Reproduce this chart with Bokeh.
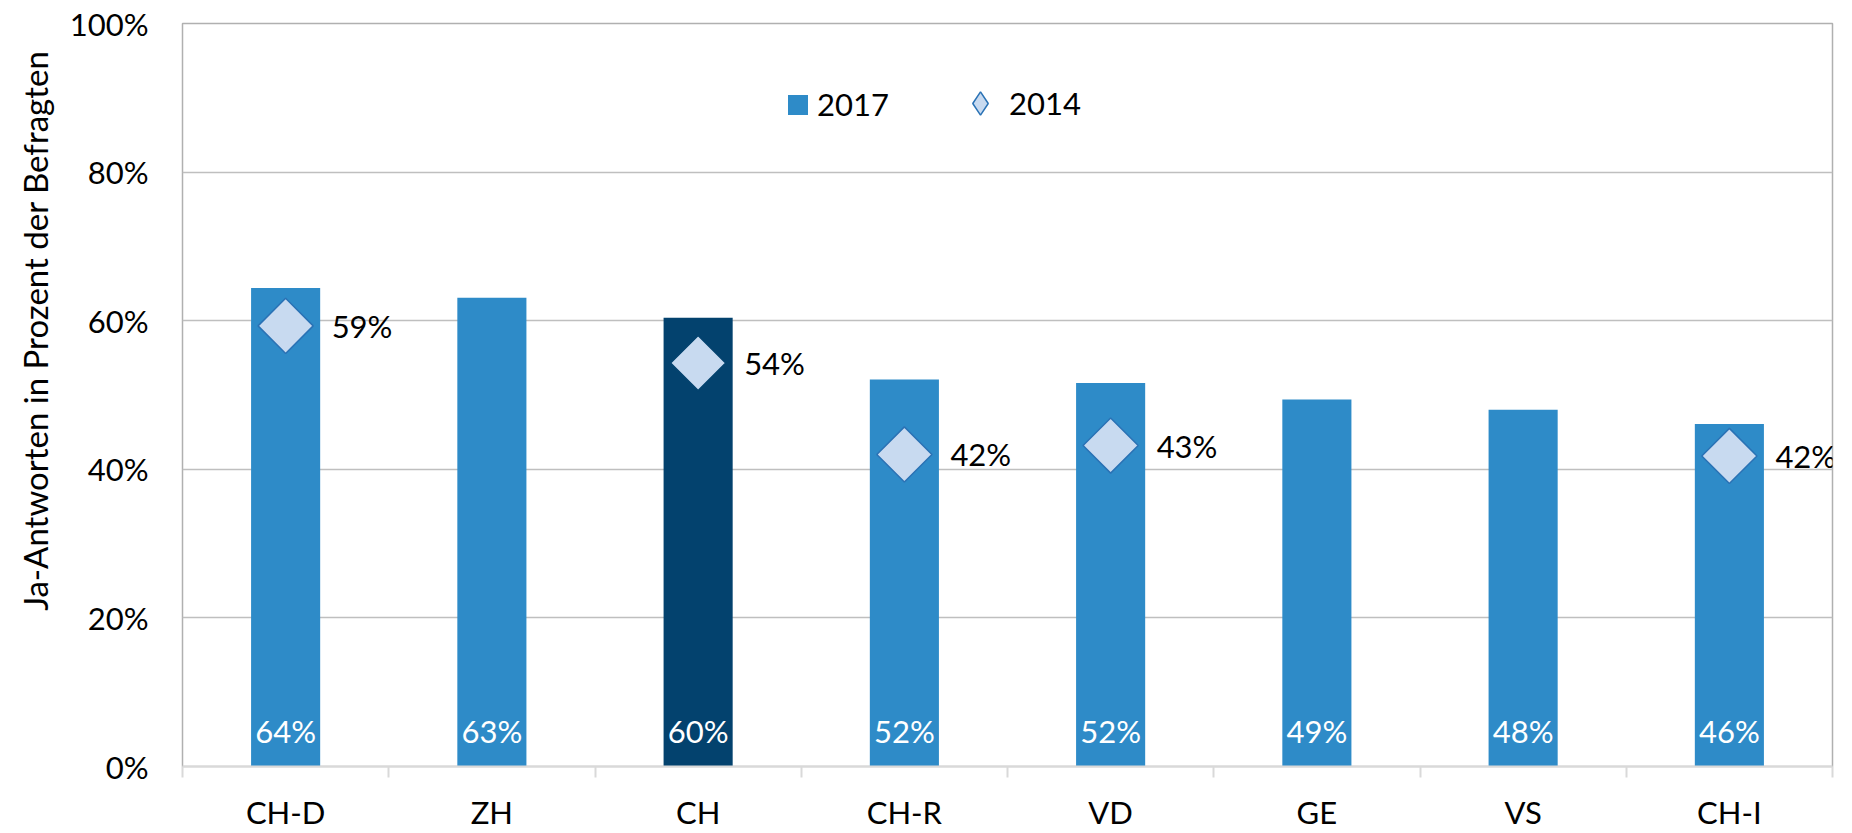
import numpy as np
from bokeh.plotting import figure
from bokeh.models import (ColumnDataSource, Range1d, FixedTicker, Legend, LegendItem, Title)
from bokeh.core.properties import value
from bokeh.embed import file_html
from bokeh.resources import INLINE

# ---- data ----
categories = ["CH-D", "ZH", "CH", "CH-R", "VD", "GE", "VS", "CH-I"]
values_2017 = [64.4, 63.1, 60.4, 52.1, 51.6, 49.4, 48.0, 46.1]
values_2014 = [59.3, None, 54.3, 42.0, 43.2, None, None, 41.8]
y_ticks = [0, 20, 40, 60, 80, 100]
y_tick_labels = ["0%", "20%", "40%", "60%", "80%", "100%"]
series_names = ["2017", "2014"]
y_axis_title = "Ja-Antworten in Prozent der Befragten"
highlight = "CH"

# ---- style ----
FONT = "Lato"
FS = "31px"
BAR = "#2E8BC8"
BAR_DARK = "#03426E"
DIA_FILL = "#C8DAF0"
DIA_LINE = "#2A72B5"

n = len(categories)
xpos = [i + 0.5 for i in range(n)]

bar_src = ColumnDataSource(dict(
    x=xpos, top=values_2017, base=[0] * n,
    color=[BAR_DARK if c == highlight else BAR for c in categories],
    label=[f"{v:.0f}%" for v in values_2017],
))
idx14 = [i for i, v in enumerate(values_2014) if v is not None]
dia_src = ColumnDataSource(dict(
    x=[xpos[i] for i in idx14],
    y=[values_2014[i] for i in idx14],
    line=[BAR_DARK if categories[i] == highlight else DIA_LINE for i in idx14],
    label=[f"{values_2014[i]:.0f}%" for i in idx14],
))

p = figure(width=1852, height=833, x_range=Range1d(0, n), y_range=Range1d(0, 100),
           output_backend="svg", toolbar_location=None,
           min_border_left=182, min_border_right=20, min_border_top=23, min_border_bottom=66)
p.background_fill_color = "white"
p.border_fill_color = "white"
p.outline_line_color = "#b0b0b0"
p.outline_line_width = 1.5
# a range that keeps the legend-symbol renderer out of the plot area
p.extra_x_ranges = {"legend_only": Range1d(n + 100, n + 101)}

bars = p.vbar(x="x", top="top", width=0.335, source=bar_src, fill_color="color", line_color=None)
dias = p.scatter(x="x", y="y", source=dia_src, marker="square", angle=np.pi / 4, size=39,
                 fill_color=DIA_FILL, line_color="line", line_width=1.5)
# legend symbol for the 2014 series (diamond), drawn only in the legend
leg_dia = p.scatter(x="x", y="y", source=dia_src, marker="diamond", x_range_name="legend_only",
                    fill_color=DIA_FILL, line_color=DIA_LINE, line_width=1.5)

p.text(x="x", y="y", text="label", source=dia_src, x_offset=46, y_offset=0,
       text_baseline="middle", text_align="left", text_font=value(FONT),
       text_font_size=FS, text_color="black")
p.text(x="x", y="base", text="label", source=bar_src, y_offset=-36,
       text_baseline="middle", text_align="center", text_font=value(FONT),
       text_font_size=FS, text_color="white")

# axes
p.xgrid.grid_line_color = None
p.ygrid.grid_line_color = "#bfbfbf"
p.ygrid.grid_line_width = 1.3
p.ygrid.ticker = FixedTicker(ticks=y_ticks)

ya = p.yaxis[0]
ya.ticker = FixedTicker(ticks=y_ticks)
ya.major_label_overrides = dict(zip(y_ticks, y_tick_labels))
ya.axis_line_color = None
ya.major_tick_line_color = None
ya.minor_tick_line_color = None
ya.major_tick_out = 0
ya.major_tick_in = 0
ya.major_label_standoff = 34
ya.major_label_text_font = FONT
ya.major_label_text_font_size = FS
ya.major_label_text_color = "black"

xa = p.xaxis[0]
xa.ticker = FixedTicker(ticks=xpos, minor_ticks=list(range(n + 1)))
xa.major_label_overrides = dict(zip(xpos, categories))
xa.axis_line_color = "#d9d9d9"
xa.axis_line_width = 2
xa.major_tick_line_color = None
xa.major_tick_out = 0
xa.major_tick_in = 0
xa.minor_tick_line_color = "#d9d9d9"
xa.minor_tick_line_width = 2
xa.minor_tick_in = 0
xa.minor_tick_out = 11
xa.major_label_standoff = 15
xa.major_label_text_font = FONT
xa.major_label_text_font_size = FS
xa.major_label_text_color = "black"

# y-axis title
ytitle = Title(text=y_axis_title, align="right", offset=27, vertical_align="middle",
               text_font=FONT, text_font_size="33px", text_font_style="normal",
               text_color="black", standoff=21)
p.add_layout(ytitle, "left")

# legends
common = dict(orientation="horizontal", padding=0, margin=0, border_line_color=None,
              background_fill_alpha=0, label_text_font=FONT, label_text_font_size=FS,
              label_text_color="black")
leg_a = Legend(items=[LegendItem(label=series_names[0], renderers=[bars], index=0)],
               location=(603, 643), glyph_width=25, glyph_height=25, label_standoff=7, **common)
leg_b = Legend(items=[LegendItem(label=series_names[1], renderers=[leg_dia], index=0)],
               location=(769, 634), glyph_width=58, glyph_height=58, label_standoff=0, **common)
p.add_layout(leg_a)
p.add_layout(leg_b)

open("out.html", "w").write(file_html(p, INLINE))
